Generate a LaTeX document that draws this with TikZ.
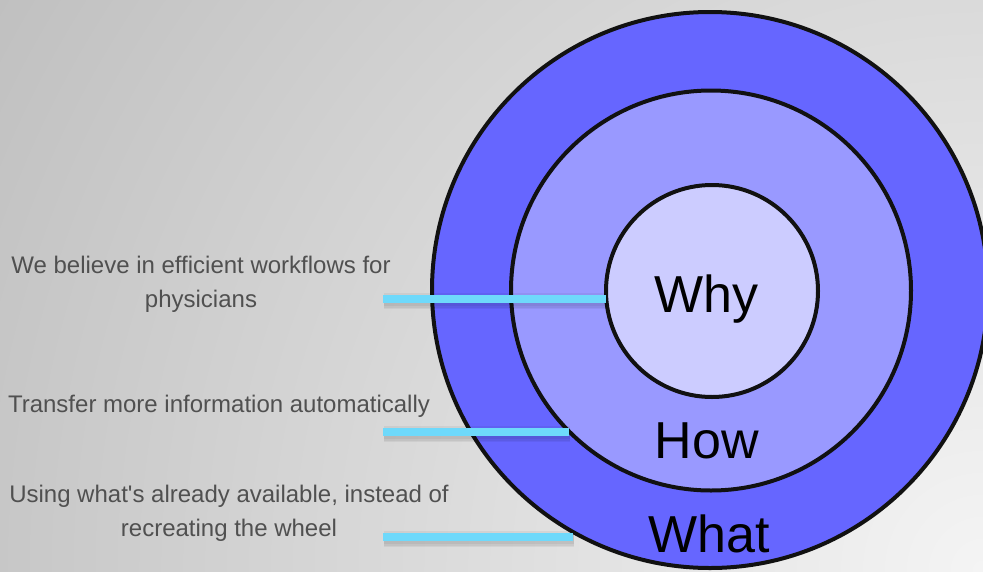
\documentclass[tikz,border=0pt]{standalone}
\usepackage{fontspec}
\setmainfont{Liberation Sans}
\newfontfamily\labfont{Liberation Sans}
\definecolor{bgin}{HTML}{F4F4F4}
\definecolor{bgout}{HTML}{C0C0C0}
\definecolor{ringA}{HTML}{6666FF}
\definecolor{ringB}{HTML}{9999FF}
\definecolor{ringC}{HTML}{CCCCFF}
\definecolor{barcol}{HTML}{6ED9FB}
\definecolor{txtgray}{HTML}{505050}
\definecolor{edge}{HTML}{111111}
\pgfdeclareradialshading{bgshade}{\pgfpoint{0bp}{0bp}}{color(0bp)=(bgin); color(25bp)=(bgout); color(50bp)=(bgout)}
\tikzset{
  ring/.style={circle, draw=edge, line width=4pt, inner sep=0pt, outer sep=0pt},
  bigword/.style={font=\fontsize{52}{60}\selectfont, text=black, inner sep=0pt, anchor=base},
  lbl/.style={font=\labfont\fontsize{24}{33.5}\selectfont, text=txtgray, align=center, inner sep=0pt, anchor=base},
  bar/.style={draw=barcol, line width=8pt},
  barshadow/.style={draw=black, opacity=0.05}
}
\begin{document}
\begin{tikzpicture}[x=1pt,y=-1pt]
\useasboundingbox (0,0) rectangle (983,571);
\begin{scope}
\clip (0,0) rectangle (983,571);
\shade[shading=bgshade] (983,571) circle[radius=1140];
\node[ring, fill=ringA, minimum size=556pt] (what) at (710,290) {};
\node[ring, fill=ringB, minimum size=400pt] (how) at (711,290.5) {};
\node[ring, fill=ringC, minimum size=212pt] (why) at (712,291) {};
\end{scope}
\node[bigword] (whyt) at (706,312) {Why};
\node[bigword] (howt) at (707,458) {How};
\node[bigword] (whatt) at (709,552) {What};
\node[lbl] (l1) at (201,307) {We believe in efficient workflows for\\physicians};
\node[lbl] (l2) at (219,412) {Transfer more information automatically};
\node[lbl] (l3) at (229,536) {Using what's already available, instead of\\recreating the wheel};
\coordinate (s1) at (383,299);
\coordinate (e1) at (606,299);
\coordinate (s2) at (383,432);
\coordinate (e2) at (569,432);
\coordinate (s3) at (383,537);
\coordinate (e3) at (573,537);
\foreach \a/\b in {s1/e1,s2/e2,s3/e3}{
  \foreach \w in {16,13,10}{
    \draw[barshadow, line width=\w pt] ([shift={(1,2)}]\a) -- ([shift={(1,2)}]\b);
  }
  \draw[bar] (\a) -- (\b);
}
\end{tikzpicture}
\end{document}
